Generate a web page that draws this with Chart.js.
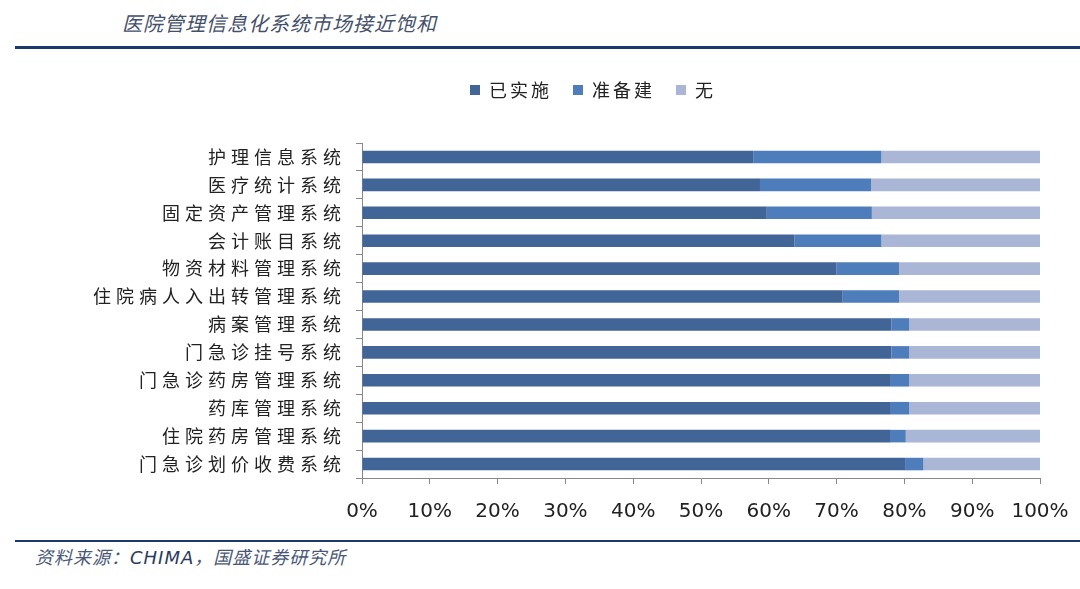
<!DOCTYPE html>
<html>
<head>
<meta charset="utf-8">
<script src="https://cdn.jsdelivr.net/npm/chart.js@4"></script>
<style>
  html, body { margin: 0; padding: 0; background: #fff; }
  body { width: 1080px; height: 589px; position: relative; overflow: hidden; font-family: "Noto Sans CJK SC", sans-serif; }
  .title { position: absolute; left: 122px; top: 8px; font-size: 20px; letter-spacing: 1px; font-style: italic; color: #44506a; }
  .rule { position: absolute; left: 15px; right: 0; background: #1d3a6c; }
  .source { position: absolute; left: 35px; top: 543px; font-size: 18px; font-style: italic; color: #4a5878; letter-spacing: 1px; }
  .source b { font-weight: normal; font-family: "DejaVu Sans", sans-serif; color: #2a3a5e; }
  .wrap { position: absolute; left: 0; top: 60px; width: 1080px; height: 475px; }
</style>
</head>
<body>
<div class="title">医院管理信息化系统市场接近饱和</div>
<div class="rule" style="top:46px;height:3px;"></div>
<div class="wrap"><canvas id="chart"></canvas></div>
<div class="rule" style="top:540px;height:2px;"></div>
<div class="source">资料来源：<b>CHIMA</b>，国盛证券研究所</div>
<script>
const darkColor = '#426598';
const midColor = '#4d7ebb';
const lightColor = '#aab6d6';

const systems = [
    '护理信息系统',
    '医疗统计系统',
    '固定资产管理系统',
    '会计账目系统',
    '物资材料管理系统',
    '住院病人入出转管理系统',
    '病案管理系统',
    '门急诊挂号系统',
    '门急诊药房管理系统',
    '药库管理系统',
    '住院药房管理系统',
    '门急诊划价收费系统'
];
const implemented = [57.7, 58.7, 59.7, 63.8, 70.0, 70.9, 78.1, 78.1, 78.0, 78.0, 78.0, 80.1];
const planned = [18.9, 16.4, 15.5, 12.8, 9.2, 8.3, 2.6, 2.6, 2.7, 2.7, 2.2, 2.7];
const none = [23.4, 24.9, 24.8, 23.4, 20.8, 20.8, 19.3, 19.3, 19.3, 19.3, 19.8, 17.2];
const seriesNames = ['已实施', '准备建', '无'];

// spaced-out category labels, like the original
const spacedLabels = {
    id: 'spacedLabels',
    beforeDraw(chart) {
        const y = chart.scales.y;
        if (y._spaced) return;
        const orig = y.drawLabels.bind(y);
        y.drawLabels = function (area) {
            this.ctx.save();
            this.ctx.letterSpacing = '5px';
            orig(area);
            this.ctx.restore();
        };
        y._spaced = true;
    }
};

// legend: extra room below, letter spacing, shifted right like the original
const legendTweak = {
    id: 'legendTweak',
    beforeInit(chart) {
        const lg = chart.legend;
        const fit = lg.fit;
        lg.fit = function () {
            this.ctx.save();
            this.ctx.letterSpacing = '3px';
            fit.bind(this)();
            this.ctx.restore();
            this.height += 34;
        };
        const draw = lg.draw;
        lg.draw = function () {
            this.ctx.save();
            this.ctx.letterSpacing = '3px';
            draw.bind(this)();
            this.ctx.restore();
        };
    },
    afterLayout(chart) {
        chart.legend.left += 67;
        chart.legend.right += 67;
    }
};

const ctx = document.getElementById('chart').getContext('2d');
new Chart(ctx, {
    type: 'bar',
    data: {
        labels: systems,
        datasets: [
            { label: seriesNames[0], data: implemented, backgroundColor: darkColor },
            { label: seriesNames[1], data: planned, backgroundColor: midColor },
            { label: seriesNames[2], data: none, backgroundColor: lightColor }
        ]
    },
    options: {
        indexAxis: 'y',
        responsive: true,
        maintainAspectRatio: false,
        animation: false,
        datasets: {
            bar: { barPercentage: 0.45, categoryPercentage: 1 }
        },
        layout: {
            padding: { left: 12, right: 40, top: 0, bottom: 0 }
        },
        scales: {
            x: {
                stacked: true,
                min: 0,
                max: 100,
                ticks: {
                    stepSize: 10,
                    padding: 16,
                    color: '#222',
                    font: { family: 'DejaVu Sans', size: 20 },
                    callback: v => v + '%'
                },
                grid: { drawOnChartArea: false, tickLength: 6, color: '#888' },
                border: { color: '#888' },
                afterFit(scale) {
                    scale.height = 57;
                    scale.paddingLeft = 0;
                    scale.paddingRight = 0;
                }
            },
            y: {
                stacked: true,
                ticks: {
                    padding: 10,
                    color: '#222',
                    font: { family: 'Noto Sans CJK SC', size: 18 }
                },
                grid: { drawOnChartArea: false, tickLength: 6, color: '#888', offset: true },
                border: { color: '#888' },
                afterFit(scale) { scale.width = 350; }
            }
        },
        plugins: {
            legend: {
                position: 'top',
                labels: {
                    boxWidth: 10,
                    boxHeight: 10,
                    padding: 21,
                    color: '#222',
                    font: { family: 'Noto Sans CJK SC', size: 18 }
                }
            },
            tooltip: { enabled: false }
        }
    },
    plugins: [spacedLabels, legendTweak]
});
</script>
</body>
</html>
